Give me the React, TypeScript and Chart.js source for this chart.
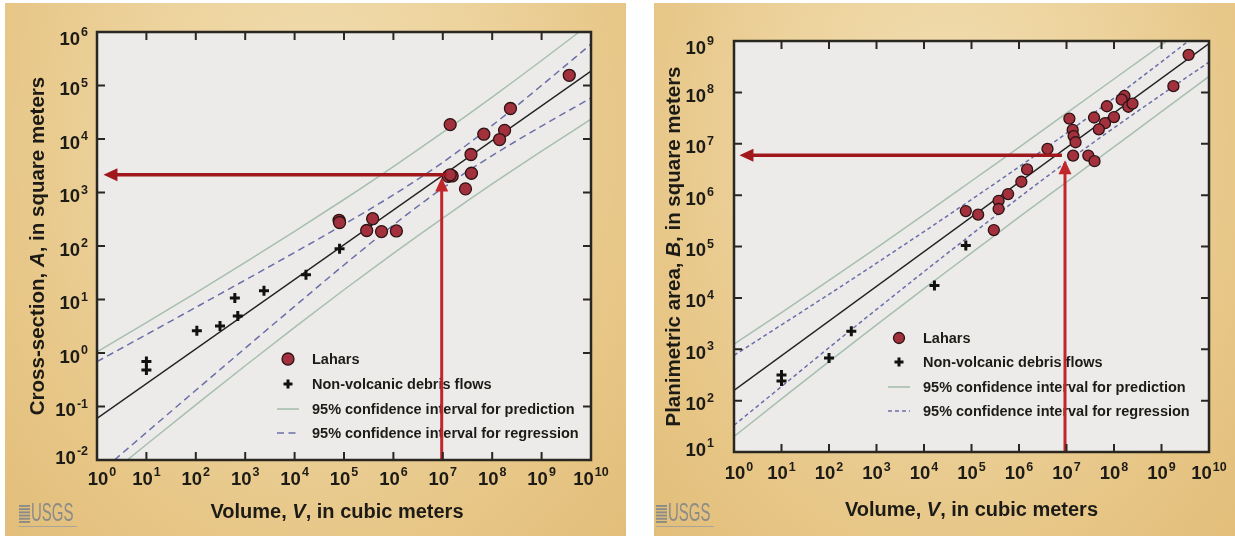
import React, { useEffect, useRef } from 'react';
import { Chart, registerables } from 'chart.js';

Chart.register(...registerables);

// ---------- shared axis ticks (labels are "10" with a superscript exponent) ----------
const tickBase = '10';
const xTickValues = [1, 1e1, 1e2, 1e3, 1e4, 1e5, 1e6, 1e7, 1e8, 1e9, 1e10];
const xTickExponents = ['0', '1', '2', '3', '4', '5', '6', '7', '8', '9', '10'];
const crossYTickValues = [1e-2, 1e-1, 1, 1e1, 1e2, 1e3, 1e4, 1e5, 1e6];
const crossYTickExponents = ['-2', '-1', '0', '1', '2', '3', '4', '5', '6'];
const planYTickValues = [1e1, 1e2, 1e3, 1e4, 1e5, 1e6, 1e7, 1e8, 1e9];
const planYTickExponents = ['1', '2', '3', '4', '5', '6', '7', '8', '9'];

const legendLabels = [
  'Lahars',
  'Non-volcanic debris flows',
  '95% confidence interval for prediction',
  '95% confidence interval for regression',
];

// volumes at which the confidence curves were read
const curveV = [1, 1e1, 1e2, 1e3, 1e4, 1e5, 1e6, 1e7, 1e8, 1e9, 1e10];
const fitV = [1, 1e10];

// ---------- left chart: cross-section A ----------
const crossLaharV = [3.63e9, 2.34e8, 1.41e7, 6.76e7, 1.78e8, 1.41e8, 3.72e7, 3.8e7, 2.88e7, 1.29e7, 1.55e7, 1.41e7, 7.94e4, 8.13e4, 3.8e5, 2.88e5, 5.75e5, 1.15e6];
const crossLaharA = [1.55e5, 3.72e4, 1.86e4, 1.23e4, 1.45e4, 9.77e3, 5.13e3, 2.29e3, 1.17e3, 2.0e3, 2.04e3, 2.14e3, 302, 275, 324, 195, 186, 191];
const crossDebrisV = [10, 10, 105, 309, 617, 708, 2400, 17000, 81300];
const crossDebrisA = [0.69, 0.48, 2.6, 3.2, 10.7, 4.9, 14.5, 29, 89];
const crossFitA = [0.06, 1.86e5];
const crossPredUpper = [1.05, 3.71, 13.3, 49.2, 187, 740, 3055, 13270, 60810, 293100, 1.48e6];
const crossPredLower = [0.00347, 0.0195, 0.107, 0.578, 3.02, 15.2, 72.9, 333, 1445, 5957, 23440];
const crossRegUpper = [0.69, 2.21, 7.13, 23.1, 75.7, 254, 904, 3656, 17950, 100200, 593000];
const crossRegLower = [0.00526, 0.0326, 0.201, 1.23, 7.46, 44.2, 247, 1211, 4898, 17420, 58480];
const crossArrowX = [9.5e6, 1.2e7, 1.35]; // vertical line V, horizontal start V, horizontal tip V
const crossArrowY = [1.9e3, 2.15e3]; // vertical tip A, horizontal line A

// ---------- right chart: planimetric area B ----------
const planLaharV = [3.72e9, 1.78e9, 1.66e8, 1.45e8, 2.0e8, 2.45e8, 1.0e8, 7.08e7, 6.46e7, 4.79e7, 3.8e7, 1.15e7, 1.35e7, 1.41e7, 1.55e7, 1.38e7, 2.88e7, 3.89e7, 3.98e6, 1.48e6, 1.12e6, 5.89e5, 3.72e5, 3.72e5, 1.38e5, 7.59e4, 2.95e5];
const planLaharB = [5.37e8, 1.32e8, 8.51e7, 7.24e7, 5.25e7, 6.03e7, 3.31e7, 5.37e7, 2.51e7, 1.91e7, 3.24e7, 3.09e7, 1.86e7, 1.41e7, 1.07e7, 5.89e6, 5.89e6, 4.57e6, 7.94e6, 3.16e6, 1.82e6, 1.05e6, 7.76e5, 5.37e5, 4.17e5, 4.9e5, 2.09e5];
const planDebrisV = [10, 10, 100, 295, 16600, 75900];
const planDebrisB = [316, 240, 676, 2239, 17400, 104700];
const planFitB = [158, 8.9e8];
const planPredUpper = [1259, 5188, 21880, 94410, 416900, 1.884e6, 8.511e6, 3.936e7, 1.82e8, 8.414e8, 3.89e9];
const planPredLower = [20.0, 108, 575, 2985, 15140, 75000, 371500, 1.799e6, 8.71e6, 4.217e7, 2.042e8];
const planRegUpper = [759, 2985, 11750, 47320, 195000, 822200, 3.548e6, 1.603e7, 7.762e7, 3.936e8, 2.042e9];
const planRegLower = [33.1, 188, 1072, 5957, 32360, 171800, 891300, 4.416e6, 2.042e7, 9.016e7, 3.89e8];
const planArrowX = [9.3e6, 8.0e6, 1.3];
const planArrowY = [4.8e6, 6.0e6];

const FONT = '"Liberation Sans", Arial, Helvetica, sans-serif';
const INK = '#1d1b16';
const PRED_COLOR = '#a6bfae';
const REG_COLOR = '#6c6fa8';
const LAHAR_FILL = '#a3313d';
const LAHAR_EDGE = '#2d1313';
const ARROW_H = '#a0181c';
const ARROW_V = '#c0262a';
const BASE_SIZE = 18.5;
const EXP_SIZE = 12.5;

type Seg = { t: string; i?: boolean };

function pts(xs: number[], ys: number[]) {
  return xs.map((x, i) => ({ x, y: ys[i] }));
}

function drawRich(ctx: CanvasRenderingContext2D, segs: Seg[], x: number, y: number, size: number, rotate: boolean) {
  ctx.save();
  ctx.translate(x, y);
  if (rotate) ctx.rotate(-Math.PI / 2);
  ctx.fillStyle = INK;
  ctx.textBaseline = 'middle';
  ctx.textAlign = 'left';
  const fonts = segs.map((s) => `${s.i ? 'italic ' : ''}bold ${size}px ${FONT}`);
  const widths = segs.map((s, k) => {
    ctx.font = fonts[k];
    return ctx.measureText(s.t).width;
  });
  const total = widths.reduce((a, b) => a + b, 0);
  let cx = -total / 2;
  segs.forEach((s, k) => {
    ctx.font = fonts[k];
    ctx.fillText(s.t, cx, 0);
    cx += widths[k];
  });
  ctx.restore();
}

// draws "10" + raised exponent; anchor: 'center' (x axis) or 'right' (y axis); baseline y given
function drawPower(ctx: CanvasRenderingContext2D, exp: string, x: number, baseline: number, anchor: 'center' | 'right') {
  ctx.save();
  ctx.fillStyle = INK;
  ctx.textBaseline = 'alphabetic';
  ctx.textAlign = 'left';
  const bFont = `bold ${BASE_SIZE}px ${FONT}`;
  const eFont = `bold ${EXP_SIZE}px ${FONT}`;
  ctx.font = bFont;
  const bw = ctx.measureText(tickBase).width;
  ctx.font = eFont;
  const ew = ctx.measureText(exp).width;
  const gap = 1;
  const total = bw + gap + ew;
  const x0 = anchor === 'center' ? x - total / 2 : x - total;
  ctx.font = bFont;
  ctx.fillText(tickBase, x0, baseline);
  ctx.font = eFont;
  ctx.fillText(exp, x0 + bw + gap, baseline - 8.5);
  ctx.restore();
}

function arrowHead(ctx: CanvasRenderingContext2D, tipX: number, tipY: number, dir: 'left' | 'up', color: string) {
  const len = 14;
  const half = 6.5;
  ctx.save();
  ctx.fillStyle = color;
  ctx.beginPath();
  if (dir === 'left') {
    ctx.moveTo(tipX, tipY);
    ctx.lineTo(tipX + len, tipY - half);
    ctx.lineTo(tipX + len, tipY + half);
  } else {
    ctx.moveTo(tipX, tipY);
    ctx.lineTo(tipX - half, tipY + len);
    ctx.lineTo(tipX + half, tipY + len);
  }
  ctx.closePath();
  ctx.fill();
  ctx.restore();
}

const decorPlugin = {
  id: 'decor',
  beforeDraw(chart: any) {
    const { ctx, chartArea: a } = chart;
    ctx.save();
    ctx.fillStyle = '#ecebea';
    ctx.fillRect(a.left, a.top, a.right - a.left, a.bottom - a.top);
    ctx.restore();
  },
  afterDraw(chart: any, _args: any, o: any) {
    const { ctx, chartArea: a } = chart;
    const xs = chart.scales.x;
    const ys = chart.scales.y;

    // legend
    ctx.save();
    const lx = a.left + o.legend.markerDx;
    const tx = a.left + o.legend.textDx;
    o.legend.rows.forEach((dy: number, k: number) => {
      const y = a.top + dy;
      if (k === 0) {
        ctx.beginPath();
        ctx.arc(lx, y, o.markerR, 0, Math.PI * 2);
        ctx.fillStyle = LAHAR_FILL;
        ctx.fill();
        ctx.lineWidth = 1.3;
        ctx.strokeStyle = LAHAR_EDGE;
        ctx.stroke();
      } else if (k === 1) {
        ctx.strokeStyle = '#111';
        ctx.lineWidth = 3;
        ctx.beginPath();
        ctx.moveTo(lx - 4.5, y);
        ctx.lineTo(lx + 4.5, y);
        ctx.moveTo(lx, y - 4.5);
        ctx.lineTo(lx, y + 4.5);
        ctx.stroke();
      } else {
        ctx.lineWidth = 1.6;
        ctx.strokeStyle = k === 2 ? PRED_COLOR : REG_COLOR;
        ctx.setLineDash(k === 2 ? [] : o.dash);
        ctx.beginPath();
        ctx.moveTo(lx - 11, y);
        ctx.lineTo(lx + 11, y);
        ctx.stroke();
        ctx.setLineDash([]);
      }
      ctx.fillStyle = INK;
      ctx.font = `bold ${o.legend.size}px ${FONT}`;
      ctx.textBaseline = 'middle';
      ctx.textAlign = 'left';
      ctx.fillText(legendLabels[k], tx, y + 0.5);
    });
    ctx.restore();

    // red arrows
    const [vx, hStartX, hTipX] = o.arrowX;
    const [vTipY, hY] = o.arrowY;
    const px = xs.getPixelForValue(vx);
    const pvTip = ys.getPixelForValue(vTipY);
    const phY = ys.getPixelForValue(hY);
    const phStart = xs.getPixelForValue(hStartX);
    const phTip = xs.getPixelForValue(hTipX);
    ctx.save();
    ctx.lineCap = 'butt';
    ctx.strokeStyle = ARROW_H;
    ctx.lineWidth = 3.5;
    ctx.beginPath();
    ctx.moveTo(phStart, phY);
    ctx.lineTo(phTip + 12, phY);
    ctx.stroke();
    arrowHead(ctx, phTip, phY, 'left', ARROW_H);
    ctx.strokeStyle = ARROW_V;
    ctx.lineWidth = 3;
    ctx.beginPath();
    ctx.moveTo(px, a.bottom);
    ctx.lineTo(px, pvTip + 12);
    ctx.stroke();
    arrowHead(ctx, px, pvTip, 'up', ARROW_V);
    ctx.restore();

    // frame and inward ticks
    ctx.save();
    ctx.strokeStyle = '#2a2620';
    ctx.lineWidth = 2;
    xTickValues.slice(1, -1).forEach((v) => {
      const x = xs.getPixelForValue(v);
      ctx.beginPath();
      ctx.moveTo(x, a.bottom);
      ctx.lineTo(x, a.bottom - 8);
      ctx.moveTo(x, a.top);
      ctx.lineTo(x, a.top + 8);
      ctx.stroke();
    });
    (o.yTicks as number[]).slice(1, -1).forEach((v) => {
      const y = ys.getPixelForValue(v);
      ctx.beginPath();
      ctx.moveTo(a.left, y);
      ctx.lineTo(a.left + 8, y);
      ctx.moveTo(a.right, y);
      ctx.lineTo(a.right - 8, y);
      ctx.stroke();
    });
    ctx.lineWidth = 2.5;
    ctx.strokeRect(a.left, a.top, a.right - a.left, a.bottom - a.top);
    ctx.restore();

    // tick labels, placed through the scales
    const half = 0.358 * BASE_SIZE;
    xTickValues.forEach((v, i) => {
      const x = xs.getPixelForValue(v) + (i === 0 ? 5 : 0);
      drawPower(ctx, xTickExponents[i], x, a.bottom + o.xLabelDy + half, 'center');
    });
    const yT = o.yTicks as number[];
    yT.forEach((v, i) => {
      const y = ys.getPixelForValue(v);
      const shift = i === yT.length - 1 ? 6 : i === 0 ? -3 : 3;
      drawPower(ctx, o.yExps[i], a.left - o.yLabelGap, y + shift + half, 'right');
    });

    // axis titles
    drawRich(ctx, o.xTitle, (a.left + a.right) / 2 + o.xTitleDx, a.bottom + o.xTitleDy, 20, false);
    drawRich(ctx, o.yTitle, o.yTitleX, (a.top + a.bottom) / 2, 20.5, true);

    // USGS mark
    ctx.save();
    const gx = o.logo[0];
    const gy = o.logo[1];
    ctx.fillStyle = '#8b8b88';
    for (let k = 0; k < 6; k++) ctx.fillRect(gx, gy + k * 3.2, 11, 1.9);
    ctx.translate(gx + 12, gy - 3);
    ctx.scale(0.6, 1);
    ctx.font = `25px ${FONT}`;
    ctx.textBaseline = 'top';
    ctx.textAlign = 'left';
    ctx.fillText('USGS', 0, 0);
    ctx.restore();
    ctx.save();
    ctx.fillStyle = '#a9a49a';
    ctx.fillRect(gx, gy + 21, 58, 1);
    ctx.restore();
  },
};

type PanelCfg = {
  left: number;
  top: number;
  w: number;
  h: number;
  yAxisW: number;
  xAxisH: number;
  padTop: number;
  padRight: number;
  yMin: number;
  yMax: number;
  yTicks: number[];
  laharV: number[];
  laharY: number[];
  debrisV: number[];
  debrisY: number[];
  fitY: number[];
  predU: number[];
  predL: number[];
  regU: number[];
  regL: number[];
  dash: number[];
  markerR: number;
  plugin: any;
};

function buildConfig(c: PanelCfg): any {
  const curve = (ys: number[], color: string, dash: number[]) => ({
    type: 'line',
    data: pts(curveV, ys),
    borderColor: color,
    borderWidth: 1.5,
    borderDash: dash,
    pointRadius: 0,
    showLine: true,
    fill: false,
    cubicInterpolationMode: 'monotone',
    order: 5,
  });
  return {
    type: 'scatter',
    data: {
      datasets: [
        {
          label: legendLabels[0],
          data: pts(c.laharV, c.laharY),
          pointStyle: 'circle',
          pointRadius: c.markerR,
          backgroundColor: LAHAR_FILL,
          borderColor: LAHAR_EDGE,
          borderWidth: 1.3,
          order: 0,
        },
        {
          label: legendLabels[1],
          data: pts(c.debrisV, c.debrisY),
          pointStyle: 'cross',
          pointRadius: 5,
          borderColor: '#111111',
          backgroundColor: '#111111',
          borderWidth: 3,
          order: 1,
        },
        {
          label: 'Regression',
          type: 'line',
          data: pts(fitV, c.fitY),
          borderColor: '#222222',
          borderWidth: 1.4,
          pointRadius: 0,
          showLine: true,
          fill: false,
          order: 3,
        },
        { label: legendLabels[3] + ' (upper)', ...curve(c.regU, REG_COLOR, c.dash) },
        { label: legendLabels[3] + ' (lower)', ...curve(c.regL, REG_COLOR, c.dash) },
        { label: legendLabels[2] + ' (upper)', ...curve(c.predU, PRED_COLOR, []) },
        { label: legendLabels[2] + ' (lower)', ...curve(c.predL, PRED_COLOR, []) },
      ],
    },
    options: {
      responsive: false,
      animation: false,
      devicePixelRatio: 1,
      layout: { padding: { left: 0, top: c.padTop, right: c.padRight, bottom: 0 } },
      plugins: {
        legend: { display: false },
        tooltip: { enabled: false },
        decor: c.plugin,
      },
      scales: {
        x: {
          type: 'logarithmic',
          min: 1,
          max: 1e10,
          afterBuildTicks: (s: any) => {
            s.ticks = xTickValues.map((v) => ({ value: v }));
          },
          afterFit: (s: any) => {
            s.height = c.xAxisH;
          },
          grid: { display: false, drawTicks: false },
          border: { display: false },
          ticks: { display: false },
        },
        y: {
          type: 'logarithmic',
          min: c.yMin,
          max: c.yMax,
          afterBuildTicks: (s: any) => {
            s.ticks = c.yTicks.map((v) => ({ value: v }));
          },
          afterFit: (s: any) => {
            s.width = c.yAxisW;
          },
          grid: { display: false, drawTicks: false },
          border: { display: false },
          ticks: { display: false },
        },
      },
    },
    plugins: [decorPlugin],
  };
}

const leftPanel: PanelCfg = {
  left: 5,
  top: 3,
  w: 621,
  h: 533,
  yAxisW: 92,
  xAxisH: 76,
  padTop: 29,
  padRight: 35,
  yMin: 1e-2,
  yMax: 1e6,
  yTicks: crossYTickValues,
  laharV: crossLaharV,
  laharY: crossLaharA,
  debrisV: crossDebrisV,
  debrisY: crossDebrisA,
  fitY: crossFitA,
  predU: crossPredUpper,
  predL: crossPredLower,
  regU: crossRegUpper,
  regL: crossRegLower,
  dash: [7, 4.5],
  markerR: 6,
  plugin: {
    legend: { markerDx: 191, textDx: 215, rows: [327, 352, 377, 401], size: 14.5 },
    dash: [7, 4.5],
    markerR: 6,
    arrowX: crossArrowX,
    arrowY: crossArrowY,
    yTicks: crossYTickValues,
    yExps: crossYTickExponents,
    xLabelDy: 18,
    yLabelGap: 9,
    xTitle: [{ t: 'Volume, ' }, { t: 'V', i: true }, { t: ', in cubic meters' }],
    xTitleDx: -7,
    xTitleDy: 52,
    yTitle: [{ t: 'Cross-section, ' }, { t: 'A', i: true }, { t: ', in square meters' }],
    yTitleX: 33,
    logo: [14, 502],
  },
};

const rightPanel: PanelCfg = {
  left: 654,
  top: 3,
  w: 581,
  h: 533,
  yAxisW: 80,
  xAxisH: 84,
  padTop: 38,
  padRight: 26,
  yMin: 1e1,
  yMax: 1e9,
  yTicks: planYTickValues,
  laharV: planLaharV,
  laharY: planLaharB,
  debrisV: planDebrisV,
  debrisY: planDebrisB,
  fitY: planFitB,
  predU: planPredUpper,
  predL: planPredLower,
  regU: planRegUpper,
  regL: planRegLower,
  dash: [4, 3],
  markerR: 5.5,
  plugin: {
    legend: { markerDx: 165, textDx: 189, rows: [297, 321, 346, 370], size: 14.5 },
    dash: [4, 3],
    markerR: 5.5,
    arrowX: planArrowX,
    arrowY: planArrowY,
    yTicks: planYTickValues,
    yExps: planYTickExponents,
    xLabelDy: 20.5,
    yLabelGap: 20,
    xTitle: [{ t: 'Volume, ' }, { t: 'V', i: true }, { t: ', in cubic meters' }],
    xTitleDx: 0,
    xTitleDy: 58,
    yTitle: [{ t: 'Planimetric area, ' }, { t: 'B', i: true }, { t: ', in square meters' }],
    yTitleX: 20,
    logo: [2, 502],
  },
};

function Panel({ cfg }: { cfg: PanelCfg }) {
  const ref = useRef<HTMLCanvasElement>(null);
  useEffect(() => {
    if (!ref.current) return;
    const chart = new Chart(ref.current, buildConfig(cfg));
    return () => chart.destroy();
  }, [cfg]);
  return (
    <div
      style={{
        position: 'absolute',
        left: cfg.left,
        top: cfg.top,
        width: cfg.w,
        height: cfg.h,
        background:
          'radial-gradient(ellipse at 50% 25%, #f2dfb3 0%, #ecd19a 45%, #e6c483 80%, #e2be7a 100%)',
      }}
    >
      <canvas ref={ref} width={cfg.w} height={cfg.h} style={{ display: 'block', width: cfg.w, height: cfg.h }} />
    </div>
  );
}

export default function App() {
  return (
    <div
      style={{
        position: 'fixed',
        left: 0,
        top: 0,
        width: 1235,
        height: 539,
        background: '#ffffff',
        overflow: 'hidden',
      }}
    >
      <Panel cfg={leftPanel} />
      <Panel cfg={rightPanel} />
    </div>
  );
}
